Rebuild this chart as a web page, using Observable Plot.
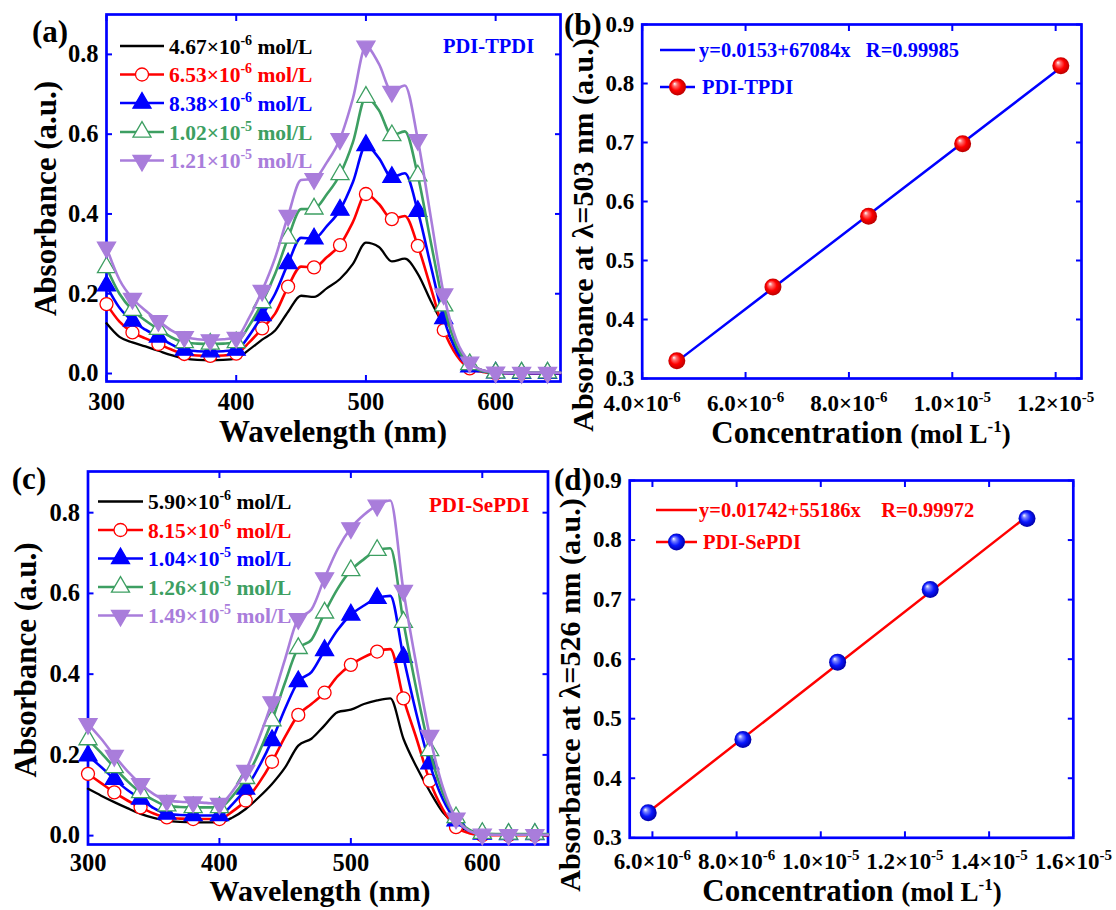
<!DOCTYPE html>
<html><head><meta charset="utf-8">
<script src="https://cdn.jsdelivr.net/npm/d3@7"></script>
<script src="https://cdn.jsdelivr.net/npm/@observablehq/plot@0.6"></script>
<style>
body{margin:0;background:#fff;}
#root{position:relative;width:1116px;height:910px;background:#fff;overflow:hidden;}
#root svg{position:absolute;}
</style></head><body><div id="root"></div>
<script>
// ---------- data ----------
const wavelengths = [300,310,320,330,340,350,360,370,380,390,400,410,420,430,440,450,460,470,480,490,500,510,520,530,540,550,560,570,580,590,600,610,620,630,640,650];

// (a) PDI-TPDI spectra
const aLabels = ["4.67×10^{-6} mol/L","6.53×10^{-6} mol/L","8.38×10^{-6} mol/L","1.02×10^{-5} mol/L","1.21×10^{-5} mol/L"];
const aBlack  = [0.126,0.092,0.078,0.068,0.057,0.046,0.038,0.034,0.033,0.034,0.038,0.060,0.085,0.108,0.155,0.195,0.192,0.214,0.237,0.275,0.328,0.317,0.281,0.288,0.250,0.182,0.120,0.062,0.024,0.008,0.003,0.002,0.001,0.001,0.001,0.001];
const aRed    = [0.174,0.130,0.103,0.088,0.074,0.060,0.049,0.045,0.044,0.045,0.050,0.078,0.113,0.150,0.218,0.268,0.266,0.292,0.322,0.380,0.450,0.425,0.387,0.395,0.320,0.215,0.109,0.045,0.013,0.004,0.001,0.001,0.001,0.001,0.001,0.001];
const aBlue   = [0.220,0.165,0.132,0.110,0.092,0.073,0.059,0.056,0.055,0.056,0.059,0.095,0.146,0.200,0.276,0.340,0.338,0.370,0.410,0.480,0.572,0.540,0.492,0.502,0.407,0.270,0.138,0.055,0.017,0.005,0.002,0.001,0.001,0.001,0.001,0.001];
const aGreen  = [0.266,0.200,0.159,0.133,0.111,0.091,0.078,0.075,0.074,0.075,0.078,0.120,0.178,0.250,0.340,0.412,0.413,0.450,0.499,0.580,0.693,0.660,0.597,0.607,0.496,0.330,0.170,0.068,0.023,0.006,0.002,0.002,0.002,0.002,0.002,0.002];
const aPurple = [0.316,0.235,0.188,0.158,0.132,0.108,0.092,0.086,0.084,0.086,0.090,0.140,0.208,0.290,0.396,0.485,0.488,0.530,0.588,0.690,0.820,0.776,0.707,0.722,0.586,0.392,0.199,0.082,0.028,0.008,0.003,0.002,0.002,0.002,0.002,0.002];

// (c) PDI-SePDI spectra
const cLabels = ["5.90×10^{-6} mol/L","8.15×10^{-6} mol/L","1.04×10^{-5} mol/L","1.26×10^{-5} mol/L","1.49×10^{-5} mol/L"];
const cBlack  = [0.116,0.099,0.083,0.068,0.054,0.044,0.037,0.034,0.033,0.033,0.033,0.045,0.066,0.095,0.128,0.169,0.223,0.240,0.273,0.306,0.312,0.326,0.335,0.340,0.240,0.170,0.110,0.058,0.027,0.012,0.004,0.003,0.002,0.002,0.002,0.002];
const cRed    = [0.153,0.130,0.107,0.087,0.070,0.055,0.045,0.042,0.041,0.041,0.041,0.060,0.087,0.130,0.183,0.245,0.299,0.326,0.354,0.395,0.423,0.442,0.456,0.462,0.340,0.240,0.136,0.065,0.021,0.006,0.001,0.001,0.001,0.001,0.001,0.001];
const cBlue   = [0.198,0.170,0.140,0.113,0.091,0.068,0.054,0.051,0.050,0.050,0.050,0.078,0.116,0.170,0.236,0.315,0.382,0.405,0.459,0.510,0.547,0.570,0.588,0.594,0.442,0.300,0.178,0.090,0.037,0.012,0.004,0.003,0.003,0.003,0.003,0.003];
const cGreen  = [0.238,0.205,0.169,0.135,0.107,0.088,0.074,0.071,0.070,0.070,0.070,0.098,0.142,0.205,0.285,0.380,0.464,0.485,0.552,0.612,0.657,0.685,0.707,0.712,0.529,0.360,0.211,0.105,0.045,0.015,0.006,0.004,0.004,0.004,0.004,0.004];
const cPurple = [0.277,0.240,0.198,0.160,0.128,0.103,0.087,0.084,0.083,0.081,0.079,0.110,0.161,0.240,0.331,0.438,0.537,0.560,0.638,0.710,0.762,0.795,0.818,0.830,0.607,0.420,0.248,0.120,0.043,0.012,0.003,0.002,0.002,0.002,0.002,0.002];

// (b) calibration PDI-TPDI at 503 nm
const bConc = [4.67e-6, 6.53e-6, 8.38e-6, 1.02e-5, 1.21e-5];
const bAbs  = [0.330, 0.455, 0.575, 0.698, 0.830];
const bFitX = [4.67e-6, 1.21e-5];
const bFitY = [0.3286, 0.827];
// (d) calibration PDI-SePDI at 526 nm
const dConc = [5.90e-6, 8.15e-6, 1.04e-5, 1.26e-5, 1.49e-5];
const dAbs  = [0.342, 0.465, 0.595, 0.717, 0.836];
const dFitX = [5.90e-6, 1.49e-5];
const dFitY = [0.343, 0.840];

// ticks
const specXTicks = [300, 400, 500, 600];
const specYTicks = [0, 0.2, 0.4, 0.6, 0.8];
const specYTickLabels = ["0.0","0.2","0.4","0.6","0.8"];
const calYTicks = [0.3,0.4,0.5,0.6,0.7,0.8,0.9];
const calYTickLabels = ["0.3","0.4","0.5","0.6","0.7","0.8","0.9"];
const bXTicks = [4e-6, 6e-6, 8e-6, 1e-5, 1.2e-5];
const bXTickLabels = ["4.0×10^{-6}","6.0×10^{-6}","8.0×10^{-6}","1.0×10^{-5}","1.2×10^{-5}"];
const dXTicks = [6e-6, 8e-6, 1e-5, 1.2e-5, 1.4e-5, 1.6e-5];
const dXTickLabels = ["6.0×10^{-6}","8.0×10^{-6}","1.0×10^{-5}","1.2×10^{-5}","1.4×10^{-5}","1.6×10^{-5}"];

// ---------- style ----------
const FONT = '"Liberation Serif", "Times New Roman", serif';
const BLUE = "#0000ff", RED = "#ff0000", GREEN = "#3d9f62", PURPLE = "#a97ddb", BLACK = "#000000";
const seriesColors = [BLACK, RED, BLUE, GREEN, PURPLE];
const symbolDown = {draw(ctx, size){ const y = Math.sqrt(size/(Math.sqrt(3)*3)); ctx.moveTo(0, y*2); ctx.lineTo(-Math.sqrt(3)*y, -y); ctx.lineTo(Math.sqrt(3)*y, -y); ctx.closePath(); }};
const seriesSymbols = [null, "circle", "triangle", "triangle", symbolDown];
const seriesFills = [null, "white", BLUE, "white", PURPLE];
const seriesR = [0, 6.5, 6.7, 6.7, 6.7];
const NS = "http://www.w3.org/2000/svg";
const root = document.getElementById("root");

function parseRich(s){const out=[];const re=/\^\{([^}]*)\}/g;let last=0,m;while((m=re.exec(s))){if(m.index>last)out.push({t:s.slice(last,m.index),sup:false});out.push({t:m[1],sup:true});last=re.lastIndex;}if(last<s.length)out.push({t:s.slice(last),sup:false});return out;}
function fillRich(el, s, size){
  const parts = parseRich(s); const raise = size*0.4; let raised=false;
  while (el.firstChild) el.removeChild(el.firstChild);
  parts.forEach(p=>{const ts=document.createElementNS(NS,"tspan");ts.textContent=p.t;
    if(p.sup){ts.setAttribute("font-size",(size*0.65).toFixed(1));ts.setAttribute("dy",(-raise).toFixed(1));raised=true;}
    else if(raised){ts.setAttribute("dy",raise.toFixed(1));raised=false;}
    el.appendChild(ts);});
}
function supTicks(svg, size){ svg.querySelectorAll("text").forEach(t=>{ if(t.textContent.includes("^{")) fillRich(t, t.textContent, size); }); }

function axesMarks({xTicks, yTicks, xFmt, yFmt, fs, xPad, yPad}){
  const tickOpts = {tickSize:-6, stroke:BLUE, strokeWidth:2, tickFormat:()=>"", label:null};
  const txt = {tickSize:0, label:null, fontSize:fs, fontWeight:"bold", fill:"black", fontFamily:FONT};
  return [
    Plot.frame({stroke:BLUE, strokeWidth:2.7}),
    Plot.axisX(xTicks, {anchor:"bottom", ...tickOpts}),
    Plot.axisX(xTicks, {anchor:"top", ...tickOpts}),
    Plot.axisY(yTicks, {anchor:"left", ...tickOpts}),
    Plot.axisY(yTicks, {anchor:"right", ...tickOpts}),
    Plot.axisX(xTicks, {anchor:"bottom", ...txt, tickPadding:xPad, tickFormat:xFmt}),
    Plot.axisY(yTicks, {anchor:"left", ...txt, tickPadding:yPad, tickFormat:yFmt})
  ];
}

function place(svg, left, top){ svg.style.left = left+"px"; svg.style.top = top+"px"; root.appendChild(svg); return svg; }
const baseStyle = {background:"transparent", overflow:"visible", fontFamily:FONT, maxWidth:"none"};

function spectraPlot(series, yDomain, box, m, pads){
  const marks = [...axesMarks({xTicks:specXTicks, yTicks:specYTicks, xFmt:(d)=>String(d), yFmt:(d)=>specYTickLabels[specYTicks.indexOf(d)], fs:24.5, xPad:pads[0], yPad:pads[1]})];
  series.forEach((vals,i)=>{
    const data = wavelengths.map((w,j)=>({w, a:vals[j]}));
    marks.push(Plot.line(data, {x:"w", y:"a", stroke:seriesColors[i], strokeWidth:i===0?2.3:2.6, curve:"monotone-x"}));
    if (seriesSymbols[i]) marks.push(Plot.dot(data.filter(d=>d.w%20===0 && d.w<=640), {x:"w", y:"a", symbol:seriesSymbols[i], r:seriesR[i], fill:seriesFills[i], stroke:seriesColors[i], strokeWidth:1.3}));
  });
  const svg = Plot.plot({width:box.w, height:box.h, marginLeft:m[0], marginRight:m[1], marginTop:m[2], marginBottom:m[3],
    x:{domain:[300,650]}, y:{domain:yDomain}, style:baseStyle, marks});
  return place(svg, box.x, box.y);
}

function calPlot(conc, abs, fitX, fitY, lineColor, fillUrl, xDomain, xTicks, xLabels, box, m, pads){
  const pts = conc.map((c,i)=>({c, a:abs[i]}));
  const fit = fitX.map((c,i)=>({c, a:fitY[i]}));
  const marks = [...axesMarks({xTicks, yTicks:calYTicks, xFmt:(d)=>xLabels[xTicks.indexOf(d)], yFmt:(d)=>calYTickLabels[calYTicks.indexOf(d)], fs:23, xPad:pads[0], yPad:pads[1]}),
    Plot.line(fit, {x:"c", y:"a", stroke:lineColor, strokeWidth:2.5}),
    Plot.dot(pts, {x:"c", y:"a", r:8.5, fill:fillUrl, stroke:"none"})
  ];
  const svg = Plot.plot({width:box.w, height:box.h, marginLeft:m[0], marginRight:m[1], marginTop:m[2], marginBottom:m[3],
    x:{domain:xDomain}, y:{domain:[0.3,0.9]}, style:baseStyle, marks});
  place(svg, box.x, box.y);
  supTicks(svg, 23);
  return svg;
}

// overlay (defs, titles, legends)
const ov = d3.select(root).append("svg").attr("width",1116).attr("height",910)
  .style("left","0px").style("top","0px").style("pointer-events","none").style("z-index",5)
  .attr("font-family", FONT).attr("font-weight","bold");
const defs = ov.append("defs");
function sphere(id, stops){ const g = defs.append("radialGradient").attr("id",id).attr("cx","0.5").attr("cy","0.5").attr("r","0.55").attr("fx","0.32").attr("fy","0.3");
  stops.forEach(([o,c])=>g.append("stop").attr("offset",o).attr("stop-color",c)); }
sphere("sphereRed", [[0,"#ffffff"],[0.22,"#ff7070"],[0.55,"#ff0000"],[0.9,"#c00000"],[1,"#900000"]]);
sphere("sphereBlue", [[0,"#ffffff"],[0.22,"#7a84ff"],[0.55,"#0a18ff"],[0.9,"#0000b0"],[1,"#000080"]]);

// plots
spectraPlot([aBlack,aRed,aBlue,aGreen,aPurple], [-0.02,0.9], {x:0,y:0,w:570,h:455}, [106,10,14,74], [11,8]);
calPlot(bConc, bAbs, bFitX, bFitY, BLUE, "url(#sphereRed)", [4e-6,1.25e-5], bXTicks, bXTickLabels, {x:558,y:0,w:558,h:455}, [83.7,35,24,77], [16,8]);
spectraPlot([cBlack,cRed,cBlue,cGreen,cPurple], [-0.022,0.902], {x:0,y:455,w:560,h:455}, [87.5,12.5,16,66], [9,8]);
calPlot(dConc, dAbs, dFitX, dFitY, RED, "url(#sphereBlue)", [5.46e-6,1.6e-5], dXTicks, dXTickLabels, {x:558,y:455,w:558,h:455}, [71.2,43.2,25,72.7], [15,8]);

root.appendChild(ov.node());

function text(x, y, s, {size=20, color="black", anchor="start", transform=null}={}){
  const t = ov.append("text").attr("x",x).attr("y",y).attr("font-size",size).attr("fill",color).attr("text-anchor",anchor)
    .attr("xml:space","preserve").style("white-space","pre");
  if (transform) t.attr("transform", transform);
  fillRich(t.node(), s, size);
  return t;
}
function sym(type, x, y, r, fill, stroke){
  ov.append("path").attr("d", d3.symbol().type(type).size(Math.PI*r*r)()).attr("transform",`translate(${x},${y})`)
    .attr("fill",fill).attr("stroke",stroke).attr("stroke-width",1.3);
}
const d3Sym = {circle:d3.symbolCircle, triangle:d3.symbolTriangle};

function spectraLegend(labels, rows, x1, x2, tx){
  labels.forEach((lab,i)=>{
    const y = rows[i];
    ov.append("line").attr("x1",x1).attr("x2",x2).attr("y1",y).attr("y2",y).attr("stroke",seriesColors[i]).attr("stroke-width",2.6);
    if (seriesSymbols[i]) { const s = seriesSymbols[i]; sym(typeof s==="string"?d3Sym[s]:s, (x1+x2)/2, y, seriesR[i], seriesFills[i], seriesColors[i]); }
    text(tx, y+7.5, lab, {size:21.5, color:seriesColors[i]});
  });
}
spectraLegend(aLabels, [46,74.5,103,132,160.5], 120, 164, 169);
spectraLegend(cLabels, [501.5,530,558.5,587,615.5], 98, 143, 148);
text(443, 53, "PDI-TPDI", {size:20.5, color:BLUE});
text(429, 512, "PDI-SePDI", {size:21, color:RED});

// calibration legends
function calLegend(y1, y2, x1, x2, lineColor, fitText, name, sphereUrl, tx1, tx2){
  ov.append("line").attr("x1",x1).attr("x2",x2).attr("y1",y1).attr("y2",y1).attr("stroke",lineColor).attr("stroke-width",2.5);
  text(tx1, y1+7, fitText, {size:20.5, color:lineColor});
  ov.append("line").attr("x1",x1).attr("x2",x2).attr("y1",y2).attr("y2",y2).attr("stroke",lineColor).attr("stroke-width",2.5);
  ov.append("circle").attr("cx",(x1+x2)/2).attr("cy",y2).attr("r",8.5).attr("fill",sphereUrl);
  text(tx2, y2+7, name, {size:20.5, color:lineColor});
}
calLegend(50, 87, 660, 695, BLUE, "y=0.0153+67084x   R=0.99985", "PDI-TPDI", "url(#sphereRed)", 699, 702);
calLegend(510, 542, 656, 697, RED, "y=0.01742+55186x    R=0.99972", "PDI-SePDI", "url(#sphereBlue)", 699, 703);

// panel labels
text(50, 42, "(a)", {size:31, anchor:"middle"});
text(583, 35, "(b)", {size:31, anchor:"middle"});
text(29, 489, "(c)", {size:31, anchor:"middle"});
text(573, 490, "(d)", {size:31, anchor:"middle"});

// axis titles
text(0, 0, "Absorbance (a.u.)", {size:31, anchor:"middle", transform:"translate(56,198.5) rotate(-90)"});
text(0, 0, "Absorbance (a.u.)", {size:31, anchor:"middle", transform:"translate(35.5,660) rotate(-90)"});
text(0, 0, "Absorbance at λ=503 nm (a.u.)", {size:30, anchor:"middle", transform:"translate(593,235) rotate(-90)"});
text(0, 0, "Absorbance at λ=526 nm (a.u.)", {size:30, anchor:"middle", transform:"translate(580,695) rotate(-90)"});
text(333, 442, "Wavelength (nm)", {size:31, anchor:"middle"});
text(320, 901, "Wavelength (nm)", {size:30, anchor:"middle"});
function concTitle(cx, y){
  const t = ov.append("text").attr("x",cx).attr("y",y).attr("text-anchor","middle").attr("fill","black").attr("xml:space","preserve").style("white-space","pre");
  t.append("tspan").attr("font-size",31).text("Concentration ");
  t.append("tspan").attr("font-size",27).text("(mol L");
  t.append("tspan").attr("font-size",17).attr("dy",-11).text("-1");
  t.append("tspan").attr("font-size",27).attr("dy",11).text(")");
}
concTitle(861, 443);
concTitle(852, 901);
</script>
</body></html>
